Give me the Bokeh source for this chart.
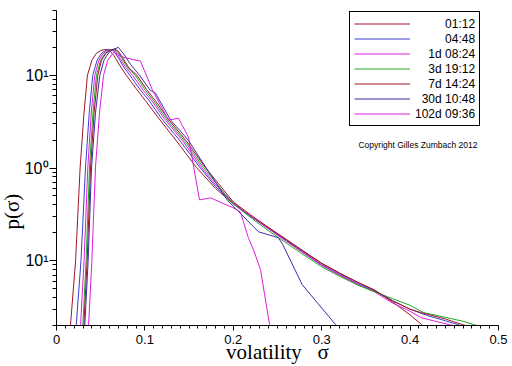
from bokeh.plotting import figure
from bokeh.models import FixedTicker, Range1d, Legend, LegendItem, Label, Title
from bokeh.embed import file_html
from bokeh.resources import INLINE

# ---------------- data ----------------
series_names = ["01:12", "04:48", "1d 08:24", "3d 19:12", "7d 14:24", "30d 10:48", "102d 09:36"]
series_colors = ["#a01428", "#3c3cd0", "#dc1edc", "#1eaa1e", "#a01428", "#3c2ca8", "#dc1edc"]

s_0112 = [0.0150, 0.0158, 0.0216, 0.0267, 0.031, 0.035, 0.040, 0.045, 0.050, 0.055, 0.059, 0.065, 0.072,
          0.079, 0.090, 0.100, 0.116, 0.135, 0.158, 0.180, 0.200, 0.220, 0.240, 0.260, 0.280, 0.300,
          0.320, 0.340, 0.360, 0.380, 0.400, 0.413, 0.420]
p_0112 = [0.013, 0.02, 0.1, 1.0, 3.8, 10.0, 14.5, 17.2, 18.5, 19.0, 19.0, 16.3, 12.6,
          10.0, 7.2, 5.4, 3.4, 2.0, 1.02, 0.60, 0.41, 0.30, 0.225, 0.167, 0.124, 0.093,
          0.073, 0.059, 0.048, 0.036, 0.026, 0.0205, 0.0175]

s_0448 = [0.0212, 0.0223, 0.0277, 0.0328, 0.037, 0.041, 0.046, 0.051, 0.056, 0.061, 0.065, 0.070, 0.076,
          0.083, 0.095, 0.105, 0.119, 0.140, 0.162, 0.180, 0.200, 0.220, 0.240, 0.260, 0.280, 0.300,
          0.320, 0.340, 0.360, 0.380, 0.400, 0.420, 0.440, 0.455, 0.470]
p_0448 = [0.013, 0.02, 0.1, 1.0, 3.9, 10.0, 14.6, 17.3, 18.6, 19.0, 18.2, 15.4, 12.3,
          10.0, 6.9, 5.3, 3.4, 1.95, 1.02, 0.63, 0.42, 0.30, 0.222, 0.164, 0.121, 0.090,
          0.071, 0.057, 0.047, 0.037, 0.030, 0.0255, 0.0225, 0.0203, 0.018]

s_1d = [0.0260, 0.0272, 0.0312, 0.0354, 0.0393, 0.0433, 0.048, 0.053, 0.058, 0.063, 0.067, 0.072, 0.078,
        0.086, 0.098, 0.108, 0.122, 0.143, 0.164, 0.180, 0.200, 0.220, 0.240, 0.260, 0.280, 0.300,
        0.320, 0.340, 0.360, 0.380, 0.400, 0.412, 0.430, 0.444, 0.460]
p_1d = [0.013, 0.02, 0.1, 1.0, 3.9, 10.0, 14.6, 17.3, 18.6, 19.0, 18.0, 15.2, 12.3,
        10.0, 6.9, 5.3, 3.4, 1.95, 1.02, 0.66, 0.42, 0.30, 0.22, 0.162, 0.120, 0.089,
        0.070, 0.056, 0.046, 0.035, 0.0285, 0.0244, 0.022, 0.0205, 0.0185]

s_3d = [0.0285, 0.0298, 0.0335, 0.0373, 0.0412, 0.0452, 0.050, 0.055, 0.060, 0.065, 0.069, 0.074, 0.080,
        0.089, 0.100, 0.110, 0.124, 0.145, 0.166, 0.180, 0.200, 0.220, 0.240, 0.260, 0.280, 0.300,
        0.320, 0.340, 0.360, 0.380, 0.400, 0.415, 0.440, 0.460, 0.472, 0.490]
p_3d = [0.013, 0.02, 0.1, 1.0, 3.9, 10.0, 14.6, 17.3, 18.6, 19.0, 18.0, 15.2, 12.3,
        10.0, 7.0, 5.3, 3.4, 1.95, 1.02, 0.70, 0.41, 0.29, 0.21, 0.155, 0.115, 0.086,
        0.068, 0.055, 0.046, 0.039, 0.033, 0.0276, 0.0245, 0.0222, 0.0205, 0.018]

s_7d = [0.0296, 0.0309, 0.0347, 0.0385, 0.0425, 0.0467, 0.051, 0.056, 0.061, 0.066, 0.070, 0.075, 0.082,
        0.091, 0.102, 0.112, 0.126, 0.147, 0.168, 0.180, 0.200, 0.220, 0.240, 0.260, 0.280, 0.300,
        0.320, 0.340, 0.360, 0.380, 0.400, 0.412, 0.440, 0.459, 0.475]
p_7d = [0.013, 0.02, 0.1, 1.0, 3.9, 10.0, 14.6, 17.3, 18.6, 19.2, 18.2, 15.4, 12.0,
        10.0, 7.0, 5.3, 3.4, 1.95, 1.02, 0.74, 0.43, 0.31, 0.228, 0.170, 0.126, 0.094,
        0.074, 0.059, 0.048, 0.037, 0.030, 0.0276, 0.0235, 0.0205, 0.0185]

s_30d = [0.0307, 0.0320, 0.0358, 0.0396, 0.0442, 0.049, 0.054, 0.059, 0.064, 0.070, 0.076, 0.084,
         0.094, 0.106, 0.112, 0.129, 0.149, 0.170, 0.193, 0.2285, 0.251, 0.256, 0.278, 0.3156, 0.325]
p_30d = [0.013, 0.02, 0.1, 1.0, 4.0, 10.0, 14.8, 17.5, 19.0, 20.0, 17.0, 13.0,
         10.0, 6.9, 6.4, 3.3, 2.0, 0.98, 0.453, 0.205, 0.177, 0.149, 0.055, 0.0205, 0.016]

s_102d = [0.0350, 0.0363, 0.0400, 0.0441, 0.0487, 0.0532, 0.058, 0.0645, 0.0758, 0.095, 0.1086, 0.1267,
          0.138, 0.1493, 0.1538, 0.1618, 0.1742, 0.2002, 0.208, 0.217, 0.2229, 0.2308, 0.241, 0.245]
p_102d = [0.013, 0.02, 0.1, 1.02, 4.0, 10.0, 14.5, 17.7, 15.6, 14.2, 6.9, 3.28,
          3.45, 2.15, 1.22, 0.453, 0.476, 0.371, 0.336, 0.177, 0.131, 0.08, 0.0205, 0.015]

series_s = [s_0112, s_0448, s_1d, s_3d, s_7d, s_30d, s_102d]
series_p = [p_0112, p_0448, p_1d, p_3d, p_7d, p_30d, p_102d]

x_ticks = [0, 0.1, 0.2, 0.3, 0.4, 0.5]
x_tick_labels = ["0", "0.1", "0.2", "0.3", "0.4", "0.5"]
y_ticks = [0.1, 1, 10]
y_tick_labels = ["10\u00b9", "10\u2070", "10\u00b9"]

x_title = "volatility\u00a0\u00a0\u00a0\u03c3"
y_title = "p(\u03c3)"
copyright_text = "Copyright Gilles Zumbach 2012"

# legend label padding (figure / punctuation spaces) to imitate right alignment
legend_pads = ["\u2007" * 4 + "\u2008", "\u2007" * 4 + "\u2008", "\u2007" * 2, "\u2007" * 2,
               "\u2007" * 2, "\u2007", ""]

# ---------------- figure ----------------
p = figure(width=512, height=366, x_range=Range1d(0, 0.5), y_range=Range1d(0.02, 50),
           y_axis_type="log", output_backend="svg", toolbar_location=None,
           min_border_left=56, min_border_right=14, min_border_top=10, min_border_bottom=40)
p.outline_line_color = None
p.xgrid.visible = False
p.ygrid.visible = False
p.background_fill_color = "white"
p.border_fill_color = "white"

x_minor = [round(i * 0.01, 2) for i in range(0, 51) if i % 10 != 0]
y_minor = []
for dec in [0.01, 0.1, 1, 10]:
    for k in range(2, 10):
        v = round(k * dec, 4)
        if 0.02 <= v <= 50:
            y_minor.append(v)

xa = p.xaxis[0]
xa.ticker = FixedTicker(ticks=x_ticks, minor_ticks=x_minor)
xa.major_label_overrides = {t: l for t, l in zip(x_ticks, x_tick_labels)}
xa.major_tick_in = 0
xa.major_tick_out = 5
xa.minor_tick_in = 0
xa.minor_tick_out = 3
xa.major_label_standoff = 4
xa.major_label_text_font = "Liberation Sans"
xa.major_label_text_font_size = "13px"
xa.major_label_text_color = "black"
xa.axis_line_color = "black"
xa.major_tick_line_color = "black"
xa.minor_tick_line_color = "black"
xa.axis_label = x_title
xa.axis_label_text_font = "Liberation Serif"
xa.axis_label_text_font_size = "21px"
xa.axis_label_text_font_style = "normal"
xa.axis_label_text_color = "black"
xa.axis_label_standoff = -7

ya = p.yaxis[0]
ya.ticker = FixedTicker(ticks=y_ticks, minor_ticks=y_minor)
ya.major_label_overrides = {t: l for t, l in zip(y_ticks, y_tick_labels)}
ya.major_tick_in = 0
ya.major_tick_out = 7
ya.minor_tick_in = 0
ya.minor_tick_out = 4
ya.major_label_standoff = 1
ya.major_label_text_font = "Liberation Sans"
ya.major_label_text_font_size = "16px"
ya.major_label_text_color = "black"
ya.axis_line_color = "black"
ya.major_tick_line_color = "black"
ya.minor_tick_line_color = "black"

p.add_layout(Title(text=y_title, align="left", offset=96, vertical_align="middle", standoff=-7,
                   text_font="Liberation Serif", text_font_size="21px",
                   text_font_style="normal", text_color="black"), "left")

items = []
for name, pad, col, xs, ys in zip(series_names, legend_pads, series_colors, series_s, series_p):
    r = p.line(xs, ys, line_color=col, line_width=1)
    items.append(LegendItem(label=pad + name, renderers=[r]))

legend = Legend(items=items, location=(293, 199), orientation="vertical",
                padding=4, spacing=0, margin=0, glyph_width=56, glyph_height=15,
                label_height=15, label_standoff=5,
                label_text_font="Liberation Sans", label_text_font_size="12px",
                label_text_color="black",
                border_line_color="black", border_line_width=1, border_line_alpha=1.0,
                background_fill_color="white", background_fill_alpha=1.0)
p.add_layout(legend, "center")

p.add_layout(Label(x=0.3416, y=1.77, text=copyright_text, text_font="Liberation Sans",
                   text_font_size="8.5px", text_baseline="middle", text_align="left",
                   text_color="black"))

open("out.html", "w").write(file_html(p, INLINE))
